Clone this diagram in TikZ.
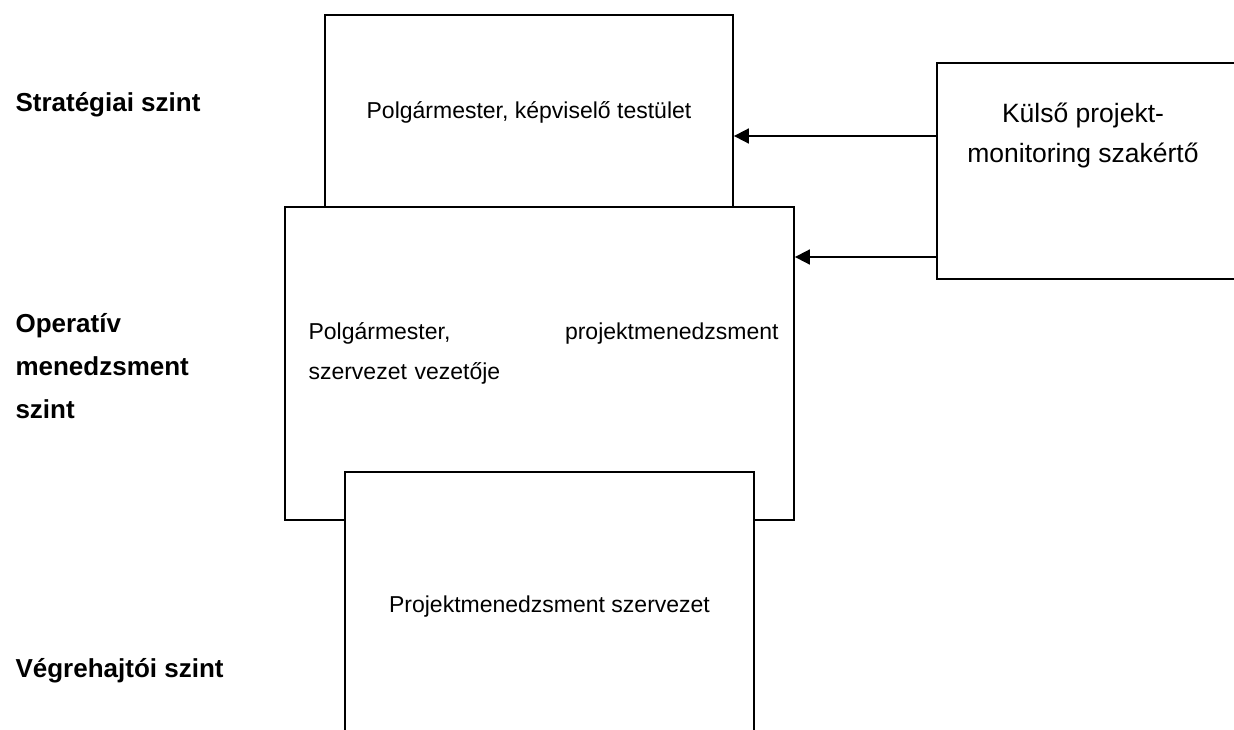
\documentclass[tikz,border=0pt]{standalone}
\usepackage{fontspec}
\setmainfont{Liberation Sans}
\usetikzlibrary{arrows.meta}
\tikzset{
  x=1pt, y=-1pt,
  box/.style={draw, line width=1.8pt, fill=white, rectangle, inner sep=0pt},
  boxtext/.style={font=\fontsize{23}{40}\selectfont, align=center},
  exttext/.style={font=\fontsize{26.5}{40}\selectfont, align=center},
  lvl/.style={font=\fontsize{26}{43}\selectfont\bfseries, align=left, anchor=west},
  link/.style={line width=1.8pt, -{Triangle[length=15pt,width=15pt]}}
}
\begin{document}
\begin{tikzpicture}
\useasboundingbox (0,0) rectangle (1234,729);
% boxes
\node[box, minimum width=408pt, minimum height=192pt] (top) at (529,111) {};
\node[box, minimum width=509pt, minimum height=313pt] (mid) at (539.5,363.5) {};
\node[box, minimum width=409pt, minimum height=280pt] (bot) at (549.5,612) {};
\node[box, minimum width=320pt, minimum height=216pt] (ext) at (1097,171) {};
% box texts
\node[boxtext] (ttop) at (529,112) {Polgármester, képviselő testület};
\node[boxtext, text width=470pt, align=left, anchor=north west] (tmid) at (305,319)
  {Polgármester,\hfill projektmenedzsment\\szervezet vezetője};
\node[boxtext] (tbot) at (549.5,607) {Projektmenedzsment szervezet};
\node[exttext] (text) at (1083,135) {Külső projekt-\\monitoring szakértő};
% level labels
\node[lvl] (l1) at (12,105) {Stratégiai szint};
\node[lvl, anchor=north west] (l2) at (12,310) {Operatív\\menedzsment\\szint};
\node[lvl] (l3) at (12,671) {Végrehajtói szint};
% connectors
\coordinate (a1) at (0,136);
\coordinate (a2) at (0,257);
\draw[link] (ext.west |- a1) -- (top.east |- a1);
\draw[link] (ext.west |- a2) -- (mid.east |- a2);
\end{tikzpicture}
\end{document}
